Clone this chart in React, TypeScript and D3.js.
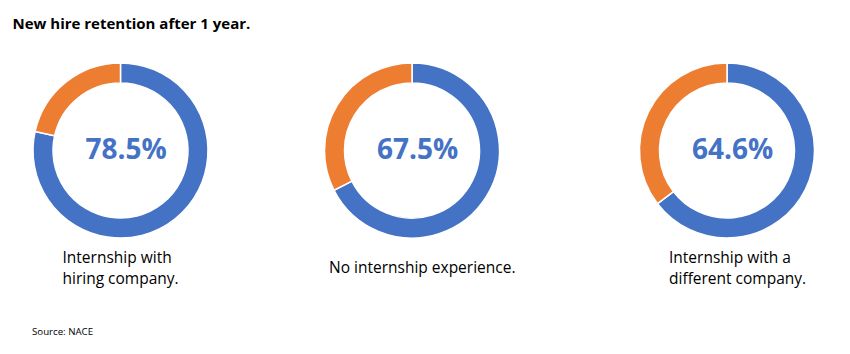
import React from "react";
import * as d3 from "d3";

const title = "New hire retention after 1 year.";
const source = "Source: NACE";
const categories = ["Internship with hiring company.", "No internship experience.", "Internship with a different company."];
const retained = [78.5, 67.5, 64.6];
const labelLines = [
  ["Internship with", "hiring company."],
  ["No internship experience."],
  ["Internship with a", "different company."],
];

const W = 850;
const H = 354;
const centersX = [120.5, 412, 727];
const labelX = [62.5, 329, 669];
const cy = 150.5;
const outerR = 87.5;
const innerR = 67.5;
const BLUE = "#4472C4";
const ORANGE = "#ED7D31";
const FONT = "'Open Sans', 'Noto Sans', sans-serif";

export default function App() {
  const pie = d3.pie<number>().sort(null).value((d) => d);
  const arc = d3.arc<d3.PieArcDatum<number>>().innerRadius(innerR).outerRadius(outerR);
  const color = d3.scaleOrdinal<number, string>().domain([0, 1]).range([BLUE, ORANGE]);
  const fmt = d3.format(".1f");

  return (
    <svg
      width={W}
      height={H}
      viewBox={`0 0 ${W} ${H}`}
      style={{ position: "absolute", left: 0, top: 0, background: "#fff" }}
      fontFamily={FONT}
    >
      <rect x={0} y={0} width={W} height={H} fill="#fff" />
      <text x={12.5} y={29} fontSize={15} fontWeight={700} fill="#000">
        {title}
      </text>
      {categories.map((cat, i) => {
        const arcs = pie([retained[i], 100 - retained[i]]);
        const lines = labelLines[i];
        const baseY = lines.length === 1 ? 272.5 : 263.3;
        return (
          <g key={cat}>
            <g transform={`translate(${centersX[i]},${cy})`}>
              {arcs.map((a, j) => (
                <path key={j} d={arc(a) || ""} fill={color(j)} stroke="#fff" strokeWidth={1.5} />
              ))}
              <text x={5.5} y={8} textAnchor="middle" fontSize={28} fontWeight={700} fill={BLUE}>
                {fmt(retained[i])}%
              </text>
            </g>
            <text x={labelX[i]} y={baseY} fontSize={15.5} fill="#000">
              {lines.map((l, k) => (
                <tspan key={k} x={labelX[i]} y={baseY + k * 21}>
                  {l}
                </tspan>
              ))}
            </text>
          </g>
        );
      })}
      <text x={32} y={335} fontSize={9.7} fill="#000">
        {source}
      </text>
    </svg>
  );
}
